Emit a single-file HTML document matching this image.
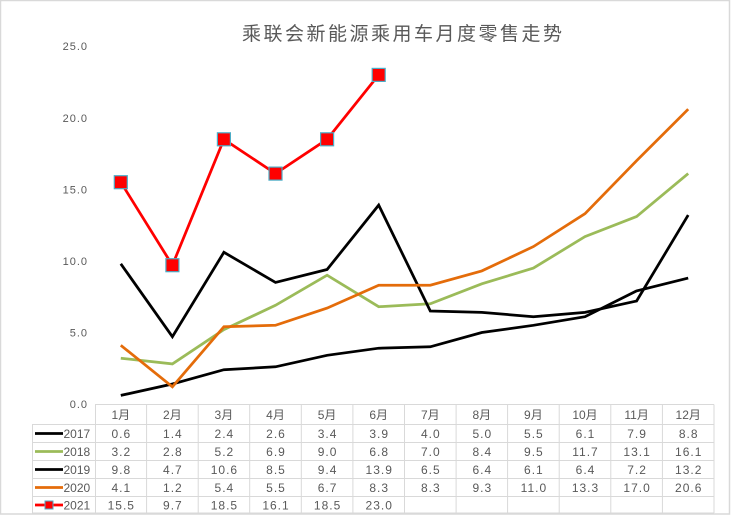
<!DOCTYPE html>
<html><head><meta charset="utf-8"><style>
html,body{margin:0;padding:0;background:#fff;}
svg{display:block;}
.t{font-family:"Liberation Sans","Noto Sans CJK SC",sans-serif;fill:#595959;}
</style></head><body>
<svg width="731" height="515" viewBox="0 0 731 515" xmlns="http://www.w3.org/2000/svg">
<rect x="0" y="0" width="731" height="515" fill="#fff"/>
<rect x="0.5" y="0.5" width="729" height="513.5" fill="none" stroke="#d9d9d9" stroke-width="1.5"/>
<text class="t" x="242" y="40" font-size="19" textLength="320" lengthAdjust="spacing" style="font-family:'Noto Sans CJK SC','WenQuanYi Zen Hei',sans-serif">乘联会新能源乘用车月度零售走势</text>

<g class="t" font-size="11" text-anchor="end" letter-spacing="1">
<text x="88" y="408">0.0</text>
<text x="88" y="336.5">5.0</text>
<text x="88" y="265">10.0</text>
<text x="88" y="193.5">15.0</text>
<text x="88" y="122">20.0</text>
<text x="88" y="50">25.0</text>
</g>

<g fill="none" stroke-width="2.75" stroke-linejoin="miter">
<polyline stroke="#000" points="120.8,395.4 172.4,384.0 223.9,369.7 275.5,366.8 327.1,355.3 378.7,348.2 430.3,346.8 481.8,332.5 533.4,325.3 585.0,316.7 636.6,290.9 688.2,278.1"/>
<polyline stroke="#9bbb59" points="120.8,358.2 172.4,363.9 223.9,329.6 275.5,305.3 327.1,275.2 378.7,306.7 430.3,303.8 481.8,283.8 533.4,268.1 585.0,236.6 636.6,216.5 688.2,173.6"/>
<polyline stroke="#000" points="120.8,263.8 172.4,336.7 223.9,252.3 275.5,282.4 327.1,269.5 378.7,205.1 430.3,311.0 481.8,312.4 533.4,316.7 585.0,312.4 636.6,301.0 688.2,215.1"/>
<polyline stroke="#e46c0a" points="120.8,345.3 172.4,386.8 223.9,326.7 275.5,325.3 327.1,308.1 378.7,285.2 430.3,285.2 481.8,270.9 533.4,246.6 585.0,213.7 636.6,160.7 688.2,109.2"/>
<polyline stroke="#ff0000" points="120.8,182.2 172.4,265.2 223.9,139.3 275.5,173.6 327.1,139.3 378.7,74.9"/>
</g>
<g fill="#ff0000" stroke="#4bacc6" stroke-width="1.2">
<rect x="114.3" y="175.7" width="13" height="13"/>
<rect x="165.9" y="258.7" width="13" height="13"/>
<rect x="217.4" y="132.8" width="13" height="13"/>
<rect x="269" y="167.1" width="13" height="13"/>
<rect x="320.6" y="132.8" width="13" height="13"/>
<rect x="372.2" y="68.4" width="13" height="13"/>
</g>

<!-- table grid -->
<g stroke="#d9d9d9" stroke-width="1" fill="none">
<line x1="95" y1="404.5" x2="714" y2="404.5"/>
<line x1="32" y1="424.5" x2="714" y2="424.5"/>
<line x1="32" y1="442.5" x2="714" y2="442.5"/>
<line x1="32" y1="460.5" x2="714" y2="460.5"/>
<line x1="32" y1="478.5" x2="714" y2="478.5"/>
<line x1="32" y1="496.5" x2="714" y2="496.5"/>
<line x1="32" y1="513" x2="714" y2="513"/>
<line x1="32.5" y1="424.5" x2="32.5" y2="513"/>
<line x1="95.5" y1="404.5" x2="95.5" y2="513"/>
<line x1="146.6" y1="404.5" x2="146.6" y2="513"/>
<line x1="198.2" y1="404.5" x2="198.2" y2="513"/>
<line x1="249.7" y1="404.5" x2="249.7" y2="513"/>
<line x1="301.3" y1="404.5" x2="301.3" y2="513"/>
<line x1="352.9" y1="404.5" x2="352.9" y2="513"/>
<line x1="404.5" y1="404.5" x2="404.5" y2="513"/>
<line x1="456.1" y1="404.5" x2="456.1" y2="513"/>
<line x1="507.6" y1="404.5" x2="507.6" y2="513"/>
<line x1="559.2" y1="404.5" x2="559.2" y2="513"/>
<line x1="610.8" y1="404.5" x2="610.8" y2="513"/>
<line x1="662.4" y1="404.5" x2="662.4" y2="513"/>
<line x1="714" y1="404.5" x2="714" y2="513"/>
</g>

<!-- legend -->
<g stroke-width="2.75">
<line x1="35" y1="433.5" x2="63" y2="433.5" stroke="#000"/>
<line x1="35" y1="451.5" x2="63" y2="451.5" stroke="#9bbb59"/>
<line x1="35" y1="469.5" x2="63" y2="469.5" stroke="#000"/>
<line x1="35" y1="487.5" x2="63" y2="487.5" stroke="#e46c0a"/>
<line x1="35" y1="505" x2="63" y2="505" stroke="#ff0000"/>
</g>
<rect x="45" y="501" width="8" height="8" fill="#ff0000" stroke="#4bacc6" stroke-width="1"/>
<g class="t" font-size="12">
<text x="63.5" y="438">2017</text>
<text x="63.5" y="456">2018</text>
<text x="63.5" y="474">2019</text>
<text x="63.5" y="492">2020</text>
<text x="63.5" y="509.5">2021</text>
</g>

<g class="t" font-size="12" text-anchor="middle" style="font-family:'Liberation Sans','Noto Sans CJK SC',sans-serif">
<text x="120.8" y="419">1月</text><text x="172.4" y="419">2月</text><text x="223.9" y="419">3月</text><text x="275.5" y="419">4月</text><text x="327.1" y="419">5月</text><text x="378.7" y="419">6月</text><text x="430.3" y="419">7月</text><text x="481.8" y="419">8月</text><text x="533.4" y="419">9月</text><text x="585" y="419">10月</text><text x="636.6" y="419">11月</text><text x="688.2" y="419">12月</text>
</g>
<g class="t" font-size="12" text-anchor="middle" letter-spacing="1">
<text x="121.3" y="438">0.6</text><text x="172.9" y="438">1.4</text><text x="224.4" y="438">2.4</text><text x="276" y="438">2.6</text><text x="327.6" y="438">3.4</text><text x="379.2" y="438">3.9</text><text x="430.8" y="438">4.0</text><text x="482.3" y="438">5.0</text><text x="533.9" y="438">5.5</text><text x="585.5" y="438">6.1</text><text x="637.1" y="438">7.9</text><text x="688.7" y="438">8.8</text>
<text x="121.3" y="456">3.2</text><text x="172.9" y="456">2.8</text><text x="224.4" y="456">5.2</text><text x="276" y="456">6.9</text><text x="327.6" y="456">9.0</text><text x="379.2" y="456">6.8</text><text x="430.8" y="456">7.0</text><text x="482.3" y="456">8.4</text><text x="533.9" y="456">9.5</text><text x="585.5" y="456">11.7</text><text x="637.1" y="456">13.1</text><text x="688.7" y="456">16.1</text>
<text x="121.3" y="474">9.8</text><text x="172.9" y="474">4.7</text><text x="224.4" y="474">10.6</text><text x="276" y="474">8.5</text><text x="327.6" y="474">9.4</text><text x="379.2" y="474">13.9</text><text x="430.8" y="474">6.5</text><text x="482.3" y="474">6.4</text><text x="533.9" y="474">6.1</text><text x="585.5" y="474">6.4</text><text x="637.1" y="474">7.2</text><text x="688.7" y="474">13.2</text>
<text x="121.3" y="492">4.1</text><text x="172.9" y="492">1.2</text><text x="224.4" y="492">5.4</text><text x="276" y="492">5.5</text><text x="327.6" y="492">6.7</text><text x="379.2" y="492">8.3</text><text x="430.8" y="492">8.3</text><text x="482.3" y="492">9.3</text><text x="533.9" y="492">11.0</text><text x="585.5" y="492">13.3</text><text x="637.1" y="492">17.0</text><text x="688.7" y="492">20.6</text>
<text x="121.3" y="509.5">15.5</text><text x="172.9" y="509.5">9.7</text><text x="224.4" y="509.5">18.5</text><text x="276" y="509.5">16.1</text><text x="327.6" y="509.5">18.5</text><text x="379.2" y="509.5">23.0</text>
</g>
</svg>
</body></html>
